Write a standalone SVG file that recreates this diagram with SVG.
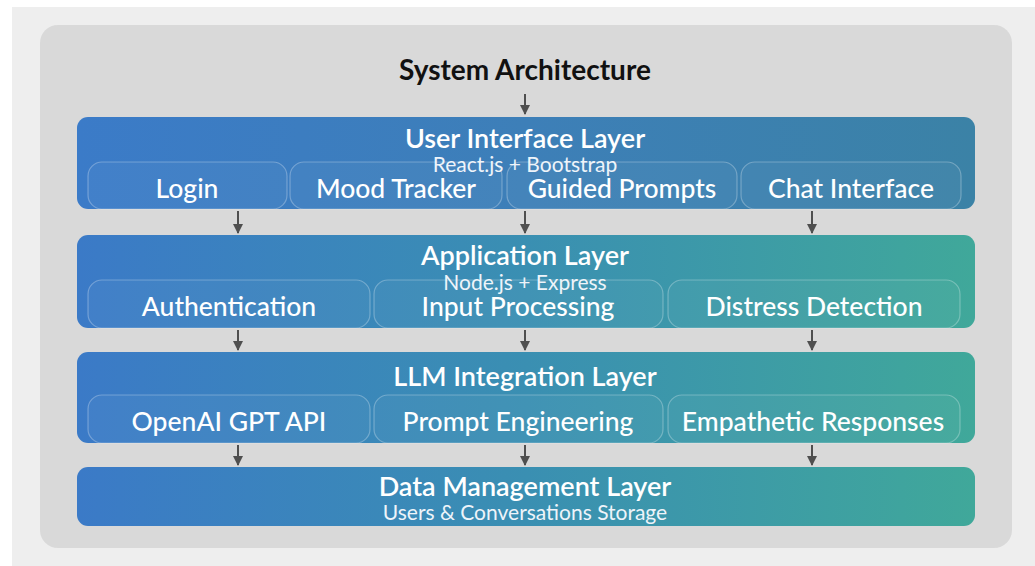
<svg xmlns="http://www.w3.org/2000/svg" width="1035" height="566" viewBox="0 0 1035 566">
  <defs>
    <linearGradient id="gUI" x1="0" y1="0" x2="1" y2="0">
      <stop offset="0" stop-color="#3b7bc8"/>
      <stop offset="0.5" stop-color="#3d7fb8"/>
      <stop offset="1" stop-color="#3b82a6"/>
    </linearGradient>
    <linearGradient id="gTeal" x1="0" y1="0" x2="1" y2="0">
      <stop offset="0" stop-color="#3b7ac7"/>
      <stop offset="0.5" stop-color="#3a8fb2"/>
      <stop offset="1" stop-color="#40a89a"/>
    </linearGradient>
    <marker id="arrowHead" viewBox="0 0 10 10" refX="9" refY="5" markerWidth="5" markerHeight="5" orient="auto" markerUnits="strokeWidth">
      <path d="M0,0 L10,5 L0,10 z" fill="#4f4f4f"/>
    </marker>
  </defs>
  <style>
    .title { font-family: Lato, "Liberation Sans", sans-serif; font-weight: 700; font-size: 28px; fill: #111; text-anchor: middle; }
    .layerTitle { font-family: Lato, "Liberation Sans", sans-serif; font-weight: 600; font-size: 27px; fill: #ffffff; text-anchor: middle; }
    .layerSub { font-family: Lato, "Liberation Sans", sans-serif; font-size: 21px; fill: #eef4fa; text-anchor: middle; }
    .item { font-family: Lato, "Liberation Sans", sans-serif; font-weight: 500; font-size: 26.5px; fill: #ffffff; text-anchor: middle; }
    .itemBox { fill: #ffffff; fill-opacity: 0.04; stroke: #ffffff; stroke-opacity: 0.28; stroke-width: 1.2; }
    .conn { stroke: #4f4f4f; stroke-width: 2; fill: none; marker-end: url(#arrowHead); }
  </style>

  <!-- backdrop -->
  <rect x="0" y="0" width="1035" height="566" fill="#ffffff"/>
  <rect x="12" y="7" width="1023" height="559" fill="#eeeeee"/>
  <rect x="40" y="25" width="972" height="523" rx="18" fill="#d9d9d9"/>

  <text class="title" x="525" y="80">System Architecture</text>

  <!-- User Interface Layer -->
  <g id="ui-layer">
    <rect x="77" y="117" width="898" height="92" rx="11" fill="url(#gUI)"/>
    <text class="layerTitle" x="525" y="148">User Interface Layer</text>
    <text class="layerSub" x="525" y="172">React.js + Bootstrap</text>
    <g id="ui-login">
      <rect class="itemBox" x="88" y="162" width="199" height="47" rx="14"/>
      <text class="item" x="187" y="198">Login</text>
    </g>
    <g id="ui-mood">
      <rect class="itemBox" x="290" y="162" width="212" height="47" rx="14"/>
      <text class="item" x="396" y="198">Mood Tracker</text>
    </g>
    <g id="ui-prompts">
      <rect class="itemBox" x="507" y="162" width="230" height="47" rx="14"/>
      <text class="item" x="622" y="198">Guided Prompts</text>
    </g>
    <g id="ui-chat">
      <rect class="itemBox" x="741" y="162" width="220" height="47" rx="14"/>
      <text class="item" x="851" y="198">Chat Interface</text>
    </g>
  </g>

  <!-- Application Layer -->
  <g id="app-layer">
    <rect x="77" y="235" width="898" height="93" rx="11" fill="url(#gTeal)"/>
    <text class="layerTitle" x="525" y="265">Application Layer</text>
    <text class="layerSub" x="525" y="290">Node.js + Express</text>
    <g id="app-auth">
      <rect class="itemBox" x="88" y="280" width="282" height="48" rx="14"/>
      <text class="item" x="229" y="316">Authentication</text>
    </g>
    <g id="app-input">
      <rect class="itemBox" x="374" y="280" width="289" height="48" rx="14"/>
      <text class="item" x="518" y="316">Input Processing</text>
    </g>
    <g id="app-distress">
      <rect class="itemBox" x="668" y="280" width="292" height="48" rx="14"/>
      <text class="item" x="814" y="316">Distress Detection</text>
    </g>
  </g>

  <!-- LLM Integration Layer -->
  <g id="llm-layer">
    <rect x="77" y="352" width="898" height="91" rx="11" fill="url(#gTeal)"/>
    <text class="layerTitle" x="525" y="386">LLM Integration Layer</text>
    <g id="llm-openai">
      <rect class="itemBox" x="88" y="395" width="282" height="48" rx="14"/>
      <text class="item" x="229" y="431">OpenAI GPT API</text>
    </g>
    <g id="llm-prompt">
      <rect class="itemBox" x="374" y="395" width="289" height="48" rx="14"/>
      <text class="item" x="518" y="431">Prompt Engineering</text>
    </g>
    <g id="llm-empathy">
      <rect class="itemBox" x="668" y="395" width="292" height="48" rx="14"/>
      <text class="item" x="813" y="431">Empathetic Responses</text>
    </g>
  </g>

  <!-- Data Management Layer -->
  <g id="data-layer">
    <rect x="77" y="467" width="898" height="59" rx="11" fill="url(#gTeal)"/>
    <text class="layerTitle" x="525" y="496">Data Management Layer</text>
    <text class="layerSub" x="525" y="520">Users &amp; Conversations Storage</text>
  </g>

  <!-- connectors between layers -->
  <g id="connectors">
    <line class="conn" x1="525" y1="94" x2="525" y2="114"/>
    <line class="conn" x1="238" y1="211" x2="238" y2="233"/>
    <line class="conn" x1="525" y1="211" x2="525" y2="233"/>
    <line class="conn" x1="812" y1="211" x2="812" y2="233"/>
    <line class="conn" x1="238" y1="330" x2="238" y2="350"/>
    <line class="conn" x1="525" y1="330" x2="525" y2="350"/>
    <line class="conn" x1="812" y1="330" x2="812" y2="350"/>
    <line class="conn" x1="238" y1="445" x2="238" y2="465"/>
    <line class="conn" x1="525" y1="445" x2="525" y2="465"/>
    <line class="conn" x1="812" y1="445" x2="812" y2="465"/>
  </g>
</svg>
